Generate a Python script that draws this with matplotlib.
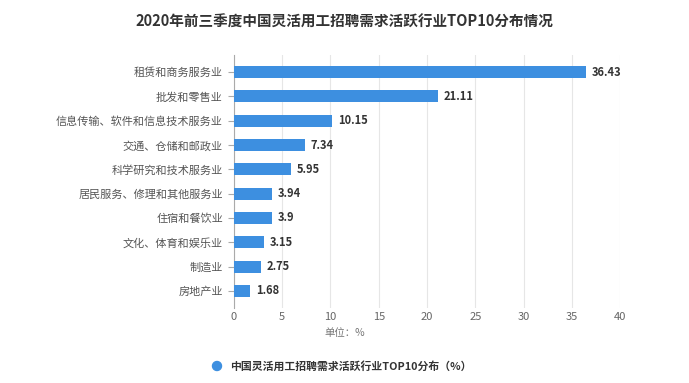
import matplotlib
matplotlib.use("Agg")
import matplotlib.pyplot as plt

plt.rcParams['font.family'] = ['Noto Sans CJK SC', 'DejaVu Sans']

categories = ["租赁和商务服务业", "批发和零售业", "信息传输、软件和信息技术服务业", "交通、仓储和邮政业",
              "科学研究和技术服务业", "居民服务、修理和其他服务业", "住宿和餐饮业", "文化、体育和娱乐业",
              "制造业", "房地产业"]
values = [36.43, 21.11, 10.15, 7.34, 5.95, 3.94, 3.9, 3.15, 2.75, 1.68]
xticks = [0, 5, 10, 15, 20, 25, 30, 35, 40]

fig = plt.figure(figsize=(6.89, 3.83), dpi=100)
ax = fig.add_axes([0.3396, 1 - 308/383, 0.5603, 253/383])

color = "#3d8fe0"
y = list(range(len(categories)))
ax.barh(y, values, height=0.5, color=color, zorder=3)
ax.set_ylim(len(categories) - 0.3, -0.7)
ax.set_xlim(0, 40)
ax.set_yticks(y)
ax.set_yticklabels(categories, fontsize=8, color="#555555")
ax.set_xticks(xticks)
ax.set_xticklabels([str(t) for t in xticks], fontsize=8, color="#666666")
for yi, v in zip(y, values):
    ax.text(v + 0.6, yi, f"{v:g}", va="center", ha="left", fontsize=8, fontweight="bold", color="#333333")

ax.grid(axis="x", color="#e6e6e6", linewidth=0.8, zorder=0)
for s in ["top", "right", "bottom"]:
    ax.spines[s].set_visible(False)
ax.spines["left"].set_color("#aaaaaa")
ax.tick_params(axis="y", length=4, color="#aaaaaa", pad=4)
ax.tick_params(axis="x", length=0, pad=3)

fig.text(0.5, 1 - 333/383, "单位：%", ha="center", va="center", fontsize=7.5, color="#777777")
fig.text(0.5, 1 - 22/383, "2020年前三季度中国灵活用工招聘需求活跃行业TOP10分布情况", ha="center", va="center",
         fontsize=10.5, fontweight="bold", color="#333333")
fig.patches.append(matplotlib.patches.Ellipse((217/689, 1-366/383), 9/689, 9/383, color=color,
                                              transform=fig.transFigure, figure=fig))
fig.text(230/689, 1-366/383, "中国灵活用工招聘需求活跃行业TOP10分布（%）", ha="left", va="center",
         fontsize=7.8, fontweight="bold", color="#333333")

fig.savefig("out.png", dpi=100)
